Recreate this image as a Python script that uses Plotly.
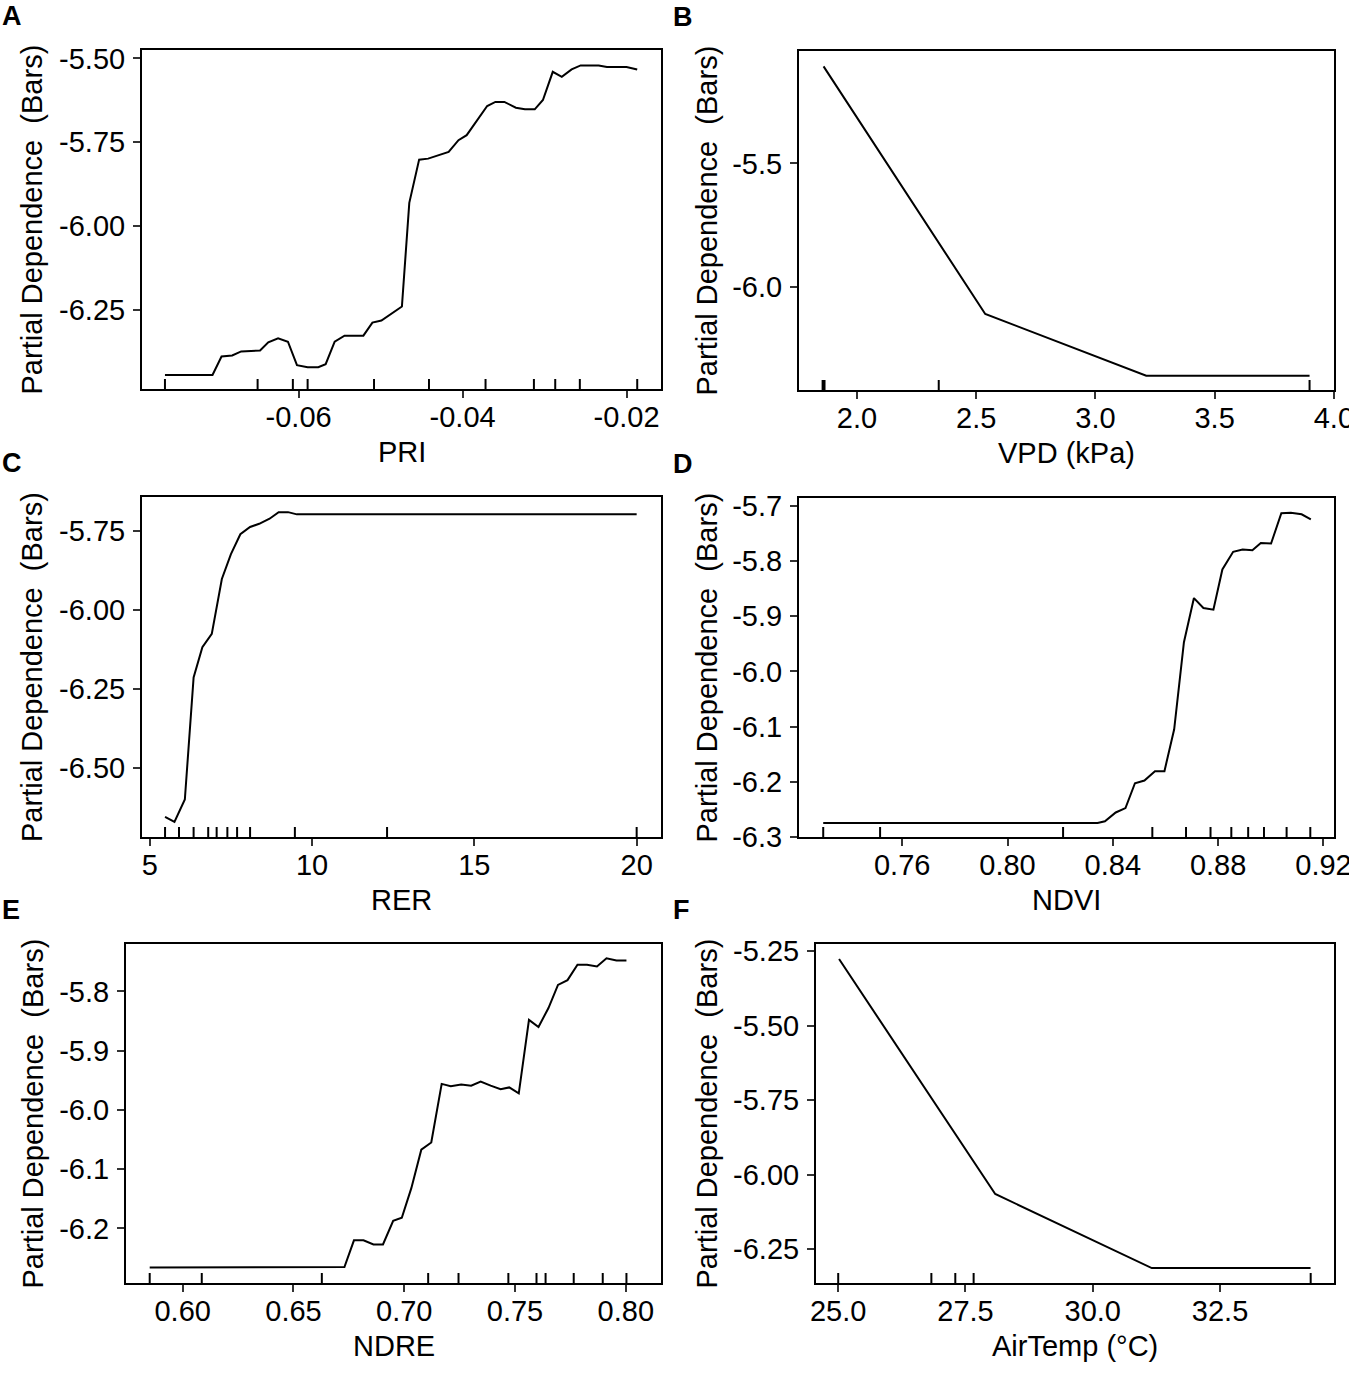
import plotly.graph_objects as go

# Partial dependence curves
PRI_X = [-0.0763, -0.0705, -0.0694, -0.0681, -0.0670, -0.0647, -0.0637, -0.0625,
         -0.0613, -0.0602, -0.0589, -0.0576, -0.0567, -0.0556, -0.0544, -0.0521,
         -0.0510, -0.0499, -0.0474, -0.0465, -0.0453, -0.0442, -0.0417, -0.0405,
         -0.0395, -0.0370, -0.0360, -0.0349, -0.0335, -0.0324, -0.0312, -0.0302,
         -0.0290, -0.0279, -0.0267, -0.0256, -0.0234, -0.0224, -0.0200, -0.0187]
PRI_Y = [-6.444, -6.444, -6.389, -6.386, -6.374, -6.371, -6.347, -6.335,
         -6.345, -6.415, -6.421, -6.421, -6.412, -6.345, -6.327, -6.327,
         -6.288, -6.282, -6.240, -5.931, -5.802, -5.799, -5.779, -5.744,
         -5.729, -5.642, -5.630, -5.630, -5.647, -5.652, -5.652, -5.624,
         -5.540, -5.555, -5.533, -5.521, -5.521, -5.526, -5.526, -5.533]
PRI_RUG = [-0.0763, -0.0650, -0.0607, -0.0589, -0.0508, -0.0441, -0.0372,
           -0.0313, -0.0287, -0.0257, -0.0187]

VPD_X = [1.860, 2.538, 3.213, 3.898]
VPD_Y = [-5.108, -6.108, -6.357, -6.357]
VPD_RUG = [1.856, 1.860, 1.864, 2.343, 3.898]

RER_X = [5.47, 5.76, 6.08, 6.35, 6.62, 6.91, 7.22, 7.50, 7.79, 8.09, 8.37,
         8.69, 8.97, 9.26, 9.53, 20.0]
RER_Y = [-6.656, -6.672, -6.601, -6.214, -6.118, -6.076, -5.902, -5.823,
         -5.760, -5.737, -5.727, -5.711, -5.690, -5.690, -5.697, -5.697]
RER_RUG = [5.47, 5.90, 6.35, 6.80, 7.06, 7.39, 7.69, 8.09, 9.47, 12.31, 20.0]

NDVI_X = [0.7300, 0.8342, 0.8370, 0.8411, 0.8448, 0.8484, 0.8520, 0.8560,
          0.8596, 0.8633, 0.8670, 0.8708, 0.8744, 0.8782, 0.8816, 0.8857,
          0.8893, 0.8930, 0.8962, 0.9001, 0.9040, 0.9076, 0.9117, 0.9152]
NDVI_Y = [-6.275, -6.275, -6.272, -6.256, -6.248, -6.203, -6.198, -6.181,
          -6.181, -6.105, -5.947, -5.867, -5.885, -5.888, -5.815, -5.783,
          -5.779, -5.780, -5.767, -5.768, -5.713, -5.712, -5.715, -5.724]
NDVI_RUG = [0.7300, 0.7516, 0.8211, 0.8550, 0.8678, 0.8771, 0.8850, 0.8914,
            0.8974, 0.9060, 0.9150]

NDRE_X = [0.5851, 0.6685, 0.6730, 0.6773, 0.6816, 0.6861, 0.6904, 0.6950,
          0.6989, 0.7032, 0.7077, 0.7122, 0.7169, 0.7210, 0.7257, 0.7302,
          0.7345, 0.7390, 0.7435, 0.7474, 0.7517, 0.7563, 0.7606, 0.7651,
          0.7694, 0.7737, 0.7782, 0.7825, 0.7870, 0.7913, 0.7958, 0.8003]
NDRE_Y = [-6.266, -6.266, -6.265, -6.220, -6.220, -6.227, -6.227, -6.187,
          -6.182, -6.132, -6.067, -6.055, -5.956, -5.960, -5.957, -5.959,
          -5.952, -5.959, -5.965, -5.962, -5.972, -5.848, -5.860, -5.828,
          -5.789, -5.781, -5.755, -5.755, -5.758, -5.744, -5.748, -5.748]
NDRE_RUG = [0.5851, 0.6086, 0.6628, 0.7108, 0.7245, 0.7470, 0.7597, 0.7638,
            0.7765, 0.7896, 0.8003]

AIRT_X = [25.017, 28.084, 31.159, 34.277]
AIRT_Y = [-5.276, -6.065, -6.314, -6.314]
AIRT_RUG = [25.0, 26.83, 27.30, 27.66, 34.28]

# tick values (labels get a plain hyphen minus, as in the original)
PRI_XT = [-0.06, -0.04, -0.02]
PRI_YT = [-5.50, -5.75, -6.00, -6.25]
VPD_XT = [2.0, 2.5, 3.0, 3.5, 4.0]
VPD_YT = [-5.5, -6.0]
RER_XT = [5, 10, 15, 20]
RER_YT = [-5.75, -6.00, -6.25, -6.50]
NDVI_XT = [0.76, 0.80, 0.84, 0.88, 0.92]
NDVI_YT = [-5.7, -5.8, -5.9, -6.0, -6.1, -6.2, -6.3]
NDRE_XT = [0.60, 0.65, 0.70, 0.75, 0.80]
NDRE_YT = [-5.8, -5.9, -6.0, -6.1, -6.2]
AIRT_XT = [25.0, 27.5, 30.0, 32.5]
AIRT_YT = [-5.25, -5.50, -5.75, -6.00, -6.25]

W, H = 1349, 1375
FONT = "Liberation Sans, Arial, sans-serif"
FS = 29

# panel: letter, x title, data, ticks, formats, box in pixels (l, r, t, b), ranges
PANELS = [
    ("A", "PRI", PRI_X, PRI_Y, PRI_RUG, PRI_XT, PRI_YT, "{:.2f}", "{:.2f}",
     (142, 661, 50, 389), [-0.0791, -0.0158], [-6.486, -5.475]),
    ("B", "VPD (kPa)", VPD_X, VPD_Y, VPD_RUG, VPD_XT, VPD_YT, "{:.1f}", "{:.1f}",
     (799, 1334, 51, 390), [1.757, 4.0005], [-6.415, -5.046]),
    ("C", "RER", RER_X, RER_Y, RER_RUG, RER_XT, RER_YT, "{:.0f}", "{:.2f}",
     (142, 661, 497, 837), [4.76, 20.75], [-6.720, -5.642]),
    ("D", "NDVI", NDVI_X, NDVI_Y, NDVI_RUG, NDVI_XT, NDVI_YT, "{:.2f}", "{:.1f}",
     (799, 1334, 498, 837), [0.7208, 0.924], [-6.3005, -5.6854]),
    ("E", "NDRE", NDRE_X, NDRE_Y, NDRE_RUG, NDRE_XT, NDRE_YT, "{:.2f}", "{:.1f}",
     (126, 661, 944, 1283), [0.5744, 0.8159], [-6.292, -5.720]),
    ("F", "AirTemp (°C)", AIRT_X, AIRT_Y, AIRT_RUG, AIRT_XT, AIRT_YT, "{:.1f}", "{:.2f}",
     (816, 1334, 944, 1283), [24.564, 34.738], [-6.364, -5.2254]),
]


def fmt(f, v):
    return f.format(v).replace("\u2212", "-")


fig = go.Figure()
annotations = []
shapes = []

for i, (letter, xtitle, xs, ys, rug, xt, yt, xf, yf, box, xr, yr) in enumerate(PANELS):
    n = "" if i == 0 else str(i + 1)
    l, r, t, b = box
    fig.add_trace(go.Scatter(x=xs, y=ys, mode="lines", xaxis="x" + n, yaxis="y" + n,
                             line=dict(color="black", width=2), showlegend=False,
                             hoverinfo="skip"))
    # automargin off: labels may run past the page edge, as in the original
    common = dict(showline=True, mirror=True, linecolor="black", linewidth=2,
                  ticks="outside", ticklen=7, tickwidth=2, tickcolor="#333333",
                  showgrid=False, zeroline=False, automargin=False,
                  ticklabeloverflow="allow",
                  tickfont=dict(family=FONT, size=FS, color="black"))
    fig.layout["xaxis" + n] = dict(
        common, domain=[l / W, r / W], range=xr, anchor="y" + n,
        tickvals=xt, ticktext=[fmt(xf, v) for v in xt], ticklabelstandoff=-6)
    fig.layout["yaxis" + n] = dict(
        common, domain=[1 - b / H, 1 - t / H], range=yr, anchor="x" + n,
        tickvals=yt, ticktext=[fmt(yf, v) for v in yt], ticklabelstandoff=2)

    # rug ticks along the bottom of each panel
    for v in rug:
        shapes.append(dict(type="line", xref="x" + n, yref="y" + n + " domain",
                           x0=v, x1=v, y0=0, y1=10 / (b - t),
                           line=dict(color="black", width=2)))

    left_col = l < 400
    # panel letter
    annotations.append(dict(text="<b>%s</b>" % letter, xref="paper", yref="paper",
                            x=(0 if left_col else 671) / W, y=1 - (t - 34) / H,
                            xanchor="left", yanchor="middle", showarrow=False,
                            font=dict(family=FONT, size=27, color="black")))
    # y title
    annotations.append(dict(text="Partial Dependence  (Bars)", textangle=-90,
                            xref="paper", yref="paper",
                            x=(32 if left_col else 706) / W, y=1 - (t + b) / 2 / H,
                            xanchor="center", yanchor="middle", showarrow=False,
                            font=dict(family=FONT, size=FS, color="black")))
    # x title
    annotations.append(dict(text=xtitle, xref="paper", yref="paper",
                            x=(l + r) / 2 / W, y=1 - (b + 63) / H,
                            xanchor="center", yanchor="middle", showarrow=False,
                            font=dict(family=FONT, size=FS, color="black")))

fig.update_layout(width=W, height=H, margin=dict(l=0, r=0, t=0, b=0, autoexpand=False),
                  paper_bgcolor="white", plot_bgcolor="white",
                  annotations=annotations, shapes=shapes,
                  font=dict(family=FONT, size=FS, color="black"))

# no body margin, no scrollbars, no modebar
fig.write_html("out.html", config={"displayModeBar": False},
               post_script="document.body.style.margin='0';"
                           "document.body.style.overflow='hidden';")
